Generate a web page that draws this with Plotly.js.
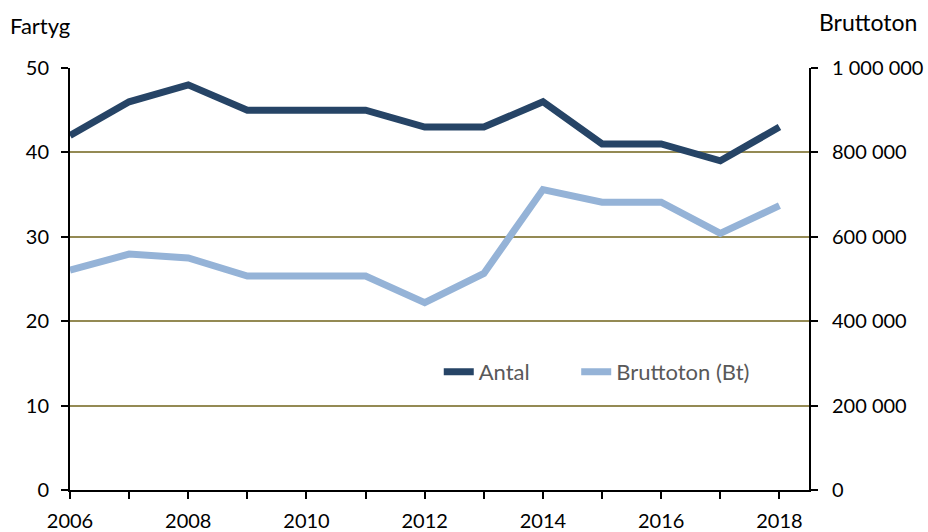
<!DOCTYPE html>
<html>
<head>
<meta charset="utf-8">
<script src="https://cdn.plot.ly/plotly-3.0.1.min.js"></script>
<style>html,body{margin:0;padding:0;background:#fff;}#chart{width:928px;height:532px;}</style>
</head>
<body>
<div id="chart"></div>
<script>
const years = [2006,2007,2008,2009,2010,2011,2012,2013,2014,2015,2016,2017,2018];
const antal = [42,46,48,45,45,45,43,43,46,41,41,39,43];
const bruttoton = [521000,559000,550000,507000,507000,507000,444000,513000,712000,682000,682000,608000,674000];
const xTickVals = [2006,2008,2010,2012,2014,2016,2018];
const leftTicks = [0,10,20,30,40,50];
const rightTickVals = [0,200000,400000,600000,800000,1000000];
const rightTickText = ['0','200 000','400 000','600 000','800 000','1 000 000'];

const font = 'Lato, "Open Sans", "DejaVu Sans", sans-serif';
const traces = [
  {x: years, y: antal, name: 'Antal', type: 'scatter', mode: 'lines',
   line: {color: '#264466', width: 7}, yaxis: 'y', legend: 'legend'},
  {x: years, y: bruttoton, name: 'Bruttoton (Bt)', type: 'scatter', mode: 'lines',
   line: {color: '#95b3d7', width: 7}, yaxis: 'y2', legend: 'legend2'}
];
const legendFont = {size: 22, color: '#595959', family: font};
const layout = {
  width: 928, height: 532,
  margin: {l: 70, r: 119, t: 68, b: 42},
  paper_bgcolor: '#fff', plot_bgcolor: '#fff',
  font: {family: font, size: 20, color: '#000'},
  showlegend: true,
  legend: {orientation: 'h', x: 0.499, y: 0.28, xanchor: 'left', yanchor: 'middle',
    font: legendFont, bgcolor: 'rgba(0,0,0,0)'},
  legend2: {orientation: 'h', x: 0.685, y: 0.28, xanchor: 'left', yanchor: 'middle',
    font: legendFont, bgcolor: 'rgba(0,0,0,0)'},
  xaxis: {range: [2006, 2018.5], tickvals: xTickVals, ticks: 'outside', ticklen: 7, tickwidth: 2,
    tickcolor: '#000', showline: true, linecolor: '#000', linewidth: 2, showgrid: false,
    zeroline: false, tickfont: {size: 20}, ticklabelstandoff: 5,
    minor: {dtick: 1, tick0: 2006, ticks: 'outside', ticklen: 7, tickwidth: 2, tickcolor: '#000', showgrid: false}},
  yaxis: {range: [0, 50], tickvals: leftTicks, ticks: 'outside', ticklen: 7, tickwidth: 2,
    tickcolor: '#000', showline: true, linecolor: '#000', linewidth: 2, showgrid: true,
    gridcolor: '#948a54', gridwidth: 2, zeroline: false, tickfont: {size: 20},
    ticklabelstandoff: 8},
  yaxis2: {range: [0, 1000000], overlaying: 'y', side: 'right', tickvals: rightTickVals,
    ticktext: rightTickText, ticks: 'outside', ticklen: 7, tickwidth: 2, tickcolor: '#000',
    showline: true, linecolor: '#000', linewidth: 2, showgrid: false, zeroline: false,
    tickfont: {size: 20}, ticklabelstandoff: 10},
  annotations: [
    {text: 'Fartyg', xref: 'paper', yref: 'paper', x: 0, y: 1, xshift: -62, yshift: 43,
     xanchor: 'left', yanchor: 'middle', showarrow: false, font: {size: 22, color: '#000'}},
    {text: 'Bruttoton', xref: 'paper', yref: 'paper', x: 1, y: 1, xshift: 8, yshift: 46,
     xanchor: 'left', yanchor: 'middle', showarrow: false, font: {size: 23, color: '#000'}}
  ]
};
Plotly.newPlot('chart', traces, layout, {displayModeBar: false, staticPlot: true});
</script>
</body>
</html>
